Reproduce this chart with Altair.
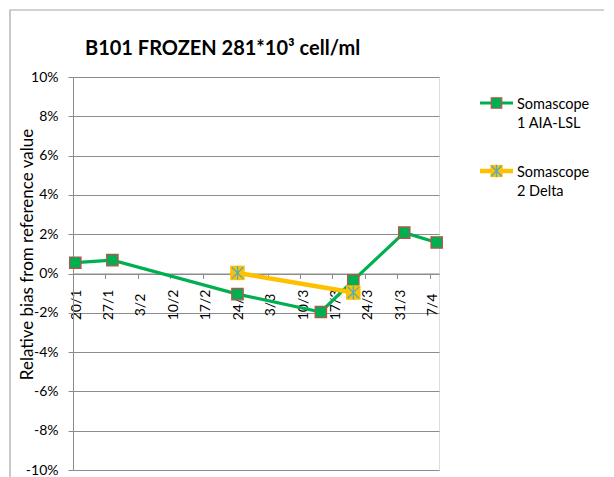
import altair as alt
import pandas as pd

# ---- data ----
green_dates = ["2014-01-20", "2014-01-28", "2014-02-24", "2014-03-14", "2014-03-21", "2014-04-01", "2014-04-08"]
green_vals = [0.55, 0.68, -1.05, -1.96, -0.35, 2.08, 1.58]
yellow_dates = ["2014-02-24", "2014-03-21"]
yellow_vals = [0.03, -0.97]
series_names = ["Somascope 1 AIA-LSL", "Somascope 2 Delta"]
legend_labels = ["Somascope\n1 AIA-LSL", "Somascope\n2 Delta"]
tick_dates = ["2014-01-20", "2014-01-27", "2014-02-03", "2014-02-10", "2014-02-17", "2014-02-24",
              "2014-03-03", "2014-03-10", "2014-03-17", "2014-03-24", "2014-03-31", "2014-04-07"]
x_domain = ["2014-01-20", "2014-04-09"]
y_ticks = [-10, -8, -6, -4, -2, 0, 2, 4, 6, 8, 10]
title_text = "B101 FROZEN 281*10\u00b3 cell/ml"
y_title = "Relative bias from reference value"

GREEN = "#00B050"
RED = "#C0504D"
YELLOW = "#FFC000"
BLUE = "#4BACC6"
GRID = "#8C8C8C"
FONT = "Lato"

W, H = 366, 393


def dt(s):
    return alt.DateTime(year=int(s[:4]), month=int(s[5:7]), date=int(s[8:10]), utc=True)


rows = []
for d, v in zip(green_dates, green_vals):
    rows.append({"t": d + "T12:00:00Z", "v": v, "series": series_names[0]})
for d, v in zip(yellow_dates, yellow_vals):
    rows.append({"t": d + "T12:00:00Z", "v": v, "series": series_names[1]})
df = pd.DataFrame(rows)

leg = pd.DataFrame({
    "li": [0, 1],
    "series": series_names,
    "label": legend_labels,
    "col": [GREEN, YELLOW],
    "sw": [3, 4.5],
})

x_enc = alt.X(
    "t:T",
    scale=alt.Scale(type="utc", domain=[dt(x_domain[0]), dt(x_domain[1])]),
    axis=alt.Axis(
        values=[dt(s) for s in tick_dates],
        labelExpr="utcFormat(datum.value, '%-d/%-m')",
        labelAngle=270,
        labelAlign="center",
        labelBaseline="middle",
        labelPadding=26,
        labelOffset=3,
        labelOverlap=False,
        labelFlush=False,
        labelFont=FONT,
        labelFontSize=14,
        labelColor="black",
        offset=-H / 2,
        grid=False,
        domainColor=GRID,
        tickColor=GRID,
        tickSize=5,
        title=None,
    ),
)
y_enc = alt.Y(
    "v:Q",
    scale=alt.Scale(domain=[-10, 10], nice=False),
    axis=alt.Axis(
        values=y_ticks,
        labelExpr="datum.value + '%'",
        grid=True,
        gridColor=GRID,
        domainColor=GRID,
        tickColor=GRID,
        tickSize=5,
        labelPadding=10,
        labelFlush=False,
        labelFont=FONT,
        labelFontSize=14,
        labelColor="black",
        title=y_title,
        titleFont=FONT,
        titleFontSize=17,
        titleFontWeight="normal",
        titleColor="black",
        titleAngle=270,
        titleX=-46,
        titleY=177,
        titleAlign="center",
        titleBaseline="middle",
    ),
)

base = alt.Chart(df).encode(x=x_enc, y=y_enc)
g = base.transform_filter(alt.datum.series == series_names[0])
yl = base.transform_filter(alt.datum.series == series_names[1])

border = alt.Chart(alt.Data(values=[{}])).mark_rect(
    fillOpacity=0, stroke="#A6A6A6", strokeWidth=1.2
).encode(x=alt.value(-63), x2=alt.value(560), y=alt.value(-67), y2=alt.value(420))

g_line = g.mark_line(color=GREEN, strokeWidth=3.2)
g_pts = g.mark_point(shape="square", filled=True, fill=GREEN, stroke=RED, strokeWidth=1.2,
                     size=130, opacity=1)
y_line = yl.mark_line(color=YELLOW, strokeWidth=4.5)
y_pts = yl.mark_point(shape="square", filled=True, fill=YELLOW, size=210, opacity=1)
asterisk = "M-1,-1L1,1M-1,1L1,-1M0,-1.2L0,1.2"
y_ast = yl.mark_point(shape=asterisk, filled=False, stroke=BLUE, strokeWidth=1.2, size=130, opacity=1)

# title drawn as a text mark so that the frame rectangle does not push it away
title_df = pd.DataFrame({"title": [title_text]})
title_mark = alt.Chart(title_df).mark_text(
    align="left", baseline="alphabetic", font=FONT, fontSize=20, fontWeight="bold", color="black"
).encode(x=alt.value(12), y=alt.value(-22), text="title:N")

main = alt.layer(border, g_line, g_pts, y_line, y_pts, y_ast, title_mark)

# ---- legend (manual) ----
ly = alt.Y("li:Q", scale=alt.Scale(domain=[0, 1], range=[26, 94]), axis=None)
lb = alt.Chart(leg).encode(y=ly)
l_rule = lb.mark_rule().encode(
    x=alt.value(407), x2=alt.value(440),
    color=alt.Color("col:N", scale=None),
    strokeWidth=alt.StrokeWidth("sw:Q", scale=None),
)
l_g = lb.transform_filter(alt.datum.li == 0).mark_point(
    shape="square", filled=True, fill=GREEN, stroke=RED, strokeWidth=1.2, size=110, opacity=1
).encode(x=alt.value(423.5))
l_y = lb.transform_filter(alt.datum.li == 1).mark_point(
    shape="square", filled=True, fill=YELLOW, size=150, opacity=1
).encode(x=alt.value(423.5))
l_ya = lb.transform_filter(alt.datum.li == 1).mark_point(
    shape=asterisk, filled=False, stroke=BLUE, strokeWidth=1.2, size=110, opacity=1
).encode(x=alt.value(423.5))
l_txt = lb.mark_text(
    align="left", baseline="alphabetic", dy=6, lineBreak="\n", lineHeight=19,
    font=FONT, fontSize=14.5, color="black"
).encode(x=alt.value(444), text="label:N")
legend = alt.layer(l_rule, l_g, l_y, l_ya, l_txt)

chart = alt.layer(main, legend).resolve_scale(y="independent").properties(
    width=W,
    height=H,
    autosize=alt.AutoSizeParams(type="none"),
    padding={"left": 65, "top": 69, "right": 165, "bottom": 8},
).configure_view(stroke=None).configure(background="white")

chart.save("out.html", embed_options={"renderer": "svg", "actions": False})
